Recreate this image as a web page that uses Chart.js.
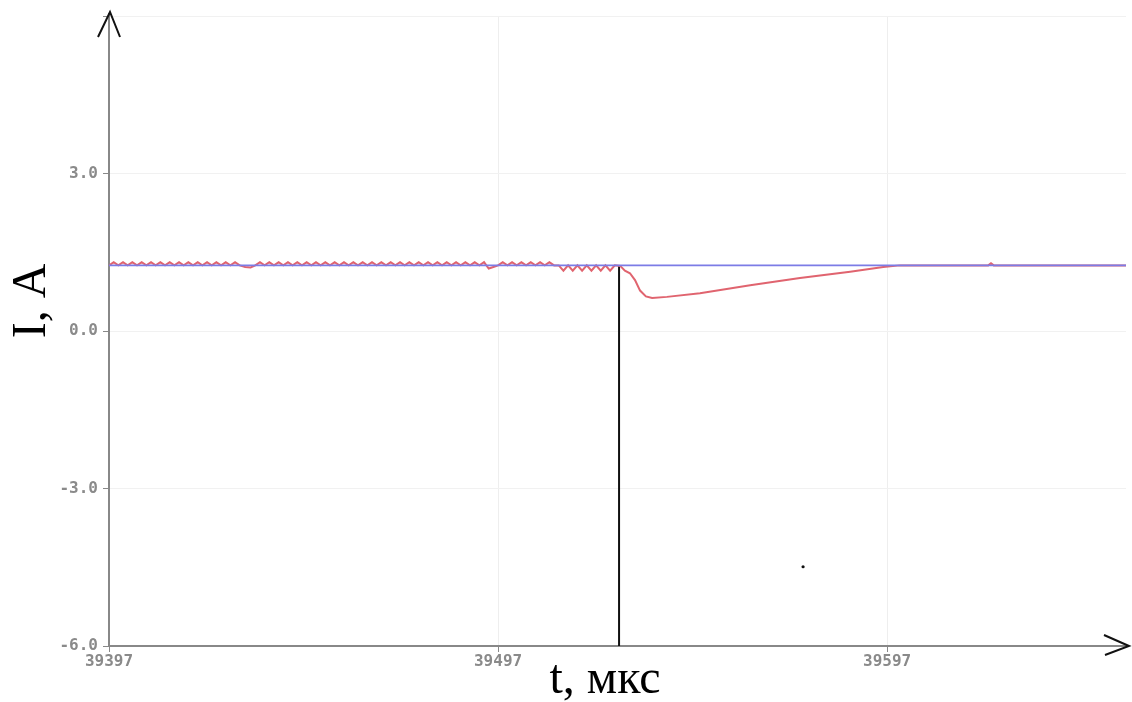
<!DOCTYPE html>
<html>
<head>
<meta charset="utf-8">
<script src="https://cdn.jsdelivr.net/npm/chart.js@4"></script>
<style>
  body { margin: 0; background: #fff; }
  canvas { display: block; }
</style>
</head>
<body>
<canvas id="chart" width="1132" height="702"></canvas>
<script>
// start of the time window, мкс
const T0 = 39397;
const xTicks = [39397, 39497, 39597];
const yTicks = [-6, -3, 0, 3, 6];

// measured current (red), time offsets from T0
const redT = [
    0, 1.2, 2.4, 3.6, 4.8, 6, 7.2, 8.4, 9.6, 10.8, 12, 13.2, 14.4, 15.6, 16.8, 18, 19.2, 20.4, 21.6, 22.8, 24, 25.2, 26.4, 27.6, 28.8, 30, 31.2, 32.4, 33.6,
    35, 36.4, 37.6,
    38.8, 40, 41.2, 42.4, 43.6, 44.8, 46, 47.2, 48.4, 49.6, 50.8, 52, 53.2, 54.4, 55.6, 56.8, 58, 59.2, 60.4, 61.6, 62.8, 64, 65.2, 66.4, 67.6, 68.8, 70, 71.2, 72.4, 73.6, 74.8, 76, 77.2, 78.4, 79.6, 80.8, 82, 83.2, 84.4, 85.6, 86.8, 88, 89.2, 90.4, 91.6, 92.8, 94, 95.2, 96.4,
    97.6, 98.8, 100,
    101.2, 102.4, 103.6, 104.8, 106, 107.2, 108.4, 109.6, 110.8, 112, 113.2, 114.4, 115.6,
    116.8, 118, 119.2, 120.4, 121.6, 122.8, 124, 125.2, 126.4, 127.6, 128.8, 130,
    131.4, 132.6, 133.9, 135.2, 136.5, 138, 139.6, 143.4, 151.9, 164.8, 177.6, 190.5, 199, 203.3, 226, 226.7, 227.4, 261.4
];
const redI = [
    1.25, 1.31, 1.25, 1.31, 1.25, 1.31, 1.25, 1.31, 1.25, 1.31, 1.25, 1.31, 1.25, 1.31, 1.25, 1.31, 1.25, 1.31, 1.25, 1.31, 1.25, 1.31, 1.25, 1.31, 1.25, 1.31, 1.25, 1.31, 1.25,
    1.22, 1.21, 1.25,
    1.31, 1.25, 1.31, 1.25, 1.31, 1.25, 1.31, 1.25, 1.31, 1.25, 1.31, 1.25, 1.31, 1.25, 1.31, 1.25, 1.31, 1.25, 1.31, 1.25, 1.31, 1.25, 1.31, 1.25, 1.31, 1.25, 1.31, 1.25, 1.31, 1.25, 1.31, 1.25, 1.31, 1.25, 1.31, 1.25, 1.31, 1.25, 1.31, 1.25, 1.31, 1.25, 1.31, 1.25, 1.31, 1.25, 1.31, 1.25, 1.31,
    1.19, 1.22, 1.25,
    1.31, 1.25, 1.31, 1.25, 1.31, 1.25, 1.31, 1.25, 1.31, 1.25, 1.31, 1.25, 1.25,
    1.15, 1.25, 1.15, 1.25, 1.15, 1.25, 1.15, 1.25, 1.15, 1.25, 1.15, 1.25,
    1.24, 1.15, 1.10, 0.97, 0.77, 0.66, 0.63, 0.65, 0.72, 0.87, 1.01, 1.13, 1.22, 1.25, 1.25, 1.29, 1.25, 1.25
];

// reference current (blue)
const blueT = [0, 261.4];
const blueI = [1.25, 1.25];

// switching moment marker
const cursorT = [131.1, 131.1];
const cursorI = [1.25, -6];

// stray dot on the scan
const dotT = [178.4];
const dotI = [-4.49];

function toPoints(ts, vals) {
    return ts.map((t, i) => ({ x: T0 + t, y: vals[i] }));
}

// arrows on the axes and axis titles
const axisDecor = {
    id: 'axisDecor',
    afterDraw(chart) {
        const { ctx, chartArea: a } = chart;
        ctx.save();
        ctx.strokeStyle = '#888';
        ctx.lineWidth = 2;
        ctx.beginPath();
        ctx.moveTo(a.left, a.top);
        ctx.lineTo(a.left, 13);
        ctx.moveTo(a.right, a.bottom);
        ctx.lineTo(1127, a.bottom);
        ctx.stroke();

        ctx.strokeStyle = '#111';
        ctx.beginPath();
        ctx.moveTo(a.left - 11, 37);
        ctx.lineTo(a.left + 1, 12);
        ctx.lineTo(a.left + 11, 37);
        ctx.moveTo(1104, a.bottom - 11);
        ctx.lineTo(1129, a.bottom);
        ctx.lineTo(1105, a.bottom + 9);
        ctx.stroke();

        ctx.fillStyle = '#000';
        ctx.font = "48px 'Liberation Serif', serif";
        ctx.textAlign = 'center';
        ctx.textBaseline = 'alphabetic';
        ctx.fillText('t, мкс', 605, 693);

        ctx.translate(45, 301);
        ctx.rotate(-Math.PI / 2);
        ctx.fillText('I, A', 0, 0);
        ctx.restore();
    }
};

const tickFont = { family: "'DejaVu Sans Mono', monospace", size: 16, weight: 'bold' };

function createChart() {
    const ctx = document.getElementById('chart').getContext('2d');
    new Chart(ctx, {
        type: 'line',
        data: {
            datasets: [
                {
                    data: toPoints(blueT, blueI),
                    borderColor: '#7c7ce6',
                    borderWidth: 1.6,
                    pointRadius: 0
                },
                {
                    data: toPoints(redT, redI),
                    borderColor: '#e0646f',
                    borderWidth: 2,
                    pointRadius: 0
                },
                {
                    data: toPoints(cursorT, cursorI),
                    borderColor: '#111',
                    borderWidth: 2,
                    pointRadius: 0
                },
                {
                    type: 'scatter',
                    data: toPoints(dotT, dotI),
                    backgroundColor: '#111',
                    borderWidth: 0,
                    pointRadius: 1.6
                }
            ]
        },
        options: {
            responsive: false,
            animation: false,
            layout: { padding: { top: 16, right: 6, left: 0, bottom: 0 } },
            plugins: {
                legend: { display: false },
                tooltip: { enabled: false }
            },
            scales: {
                x: {
                    type: 'linear',
                    min: T0,
                    max: T0 + 261.4,
                    afterBuildTicks: scale => { scale.ticks = xTicks.map(v => ({ value: v })); },
                    afterFit: scale => { scale.height = 56; },
                    grid: { color: '#eeeeee', tickColor: '#888', tickLength: 6 },
                    border: { color: '#888', width: 2 },
                    ticks: {
                        font: tickFont,
                        color: '#8a8a8a',
                        padding: 0,
                        maxRotation: 0,
                        callback: v => String(v)
                    }
                },
                y: {
                    min: -6,
                    max: 6,
                    afterBuildTicks: scale => { scale.ticks = yTicks.map(v => ({ value: v })); },
                    afterFit: scale => { scale.width = 109; },
                    grid: { color: '#f1f1f1', tickColor: '#888', tickLength: 6 },
                    border: { color: '#888', width: 2 },
                    ticks: {
                        font: tickFont,
                        color: '#8a8a8a',
                        padding: 5,
                        callback: v => (v === 6 ? '' : v.toFixed(1))
                    }
                }
            }
        },
        plugins: [axisDecor]
    });
}

document.addEventListener('DOMContentLoaded', function() {
    createChart();
});
</script>
</body>
</html>
